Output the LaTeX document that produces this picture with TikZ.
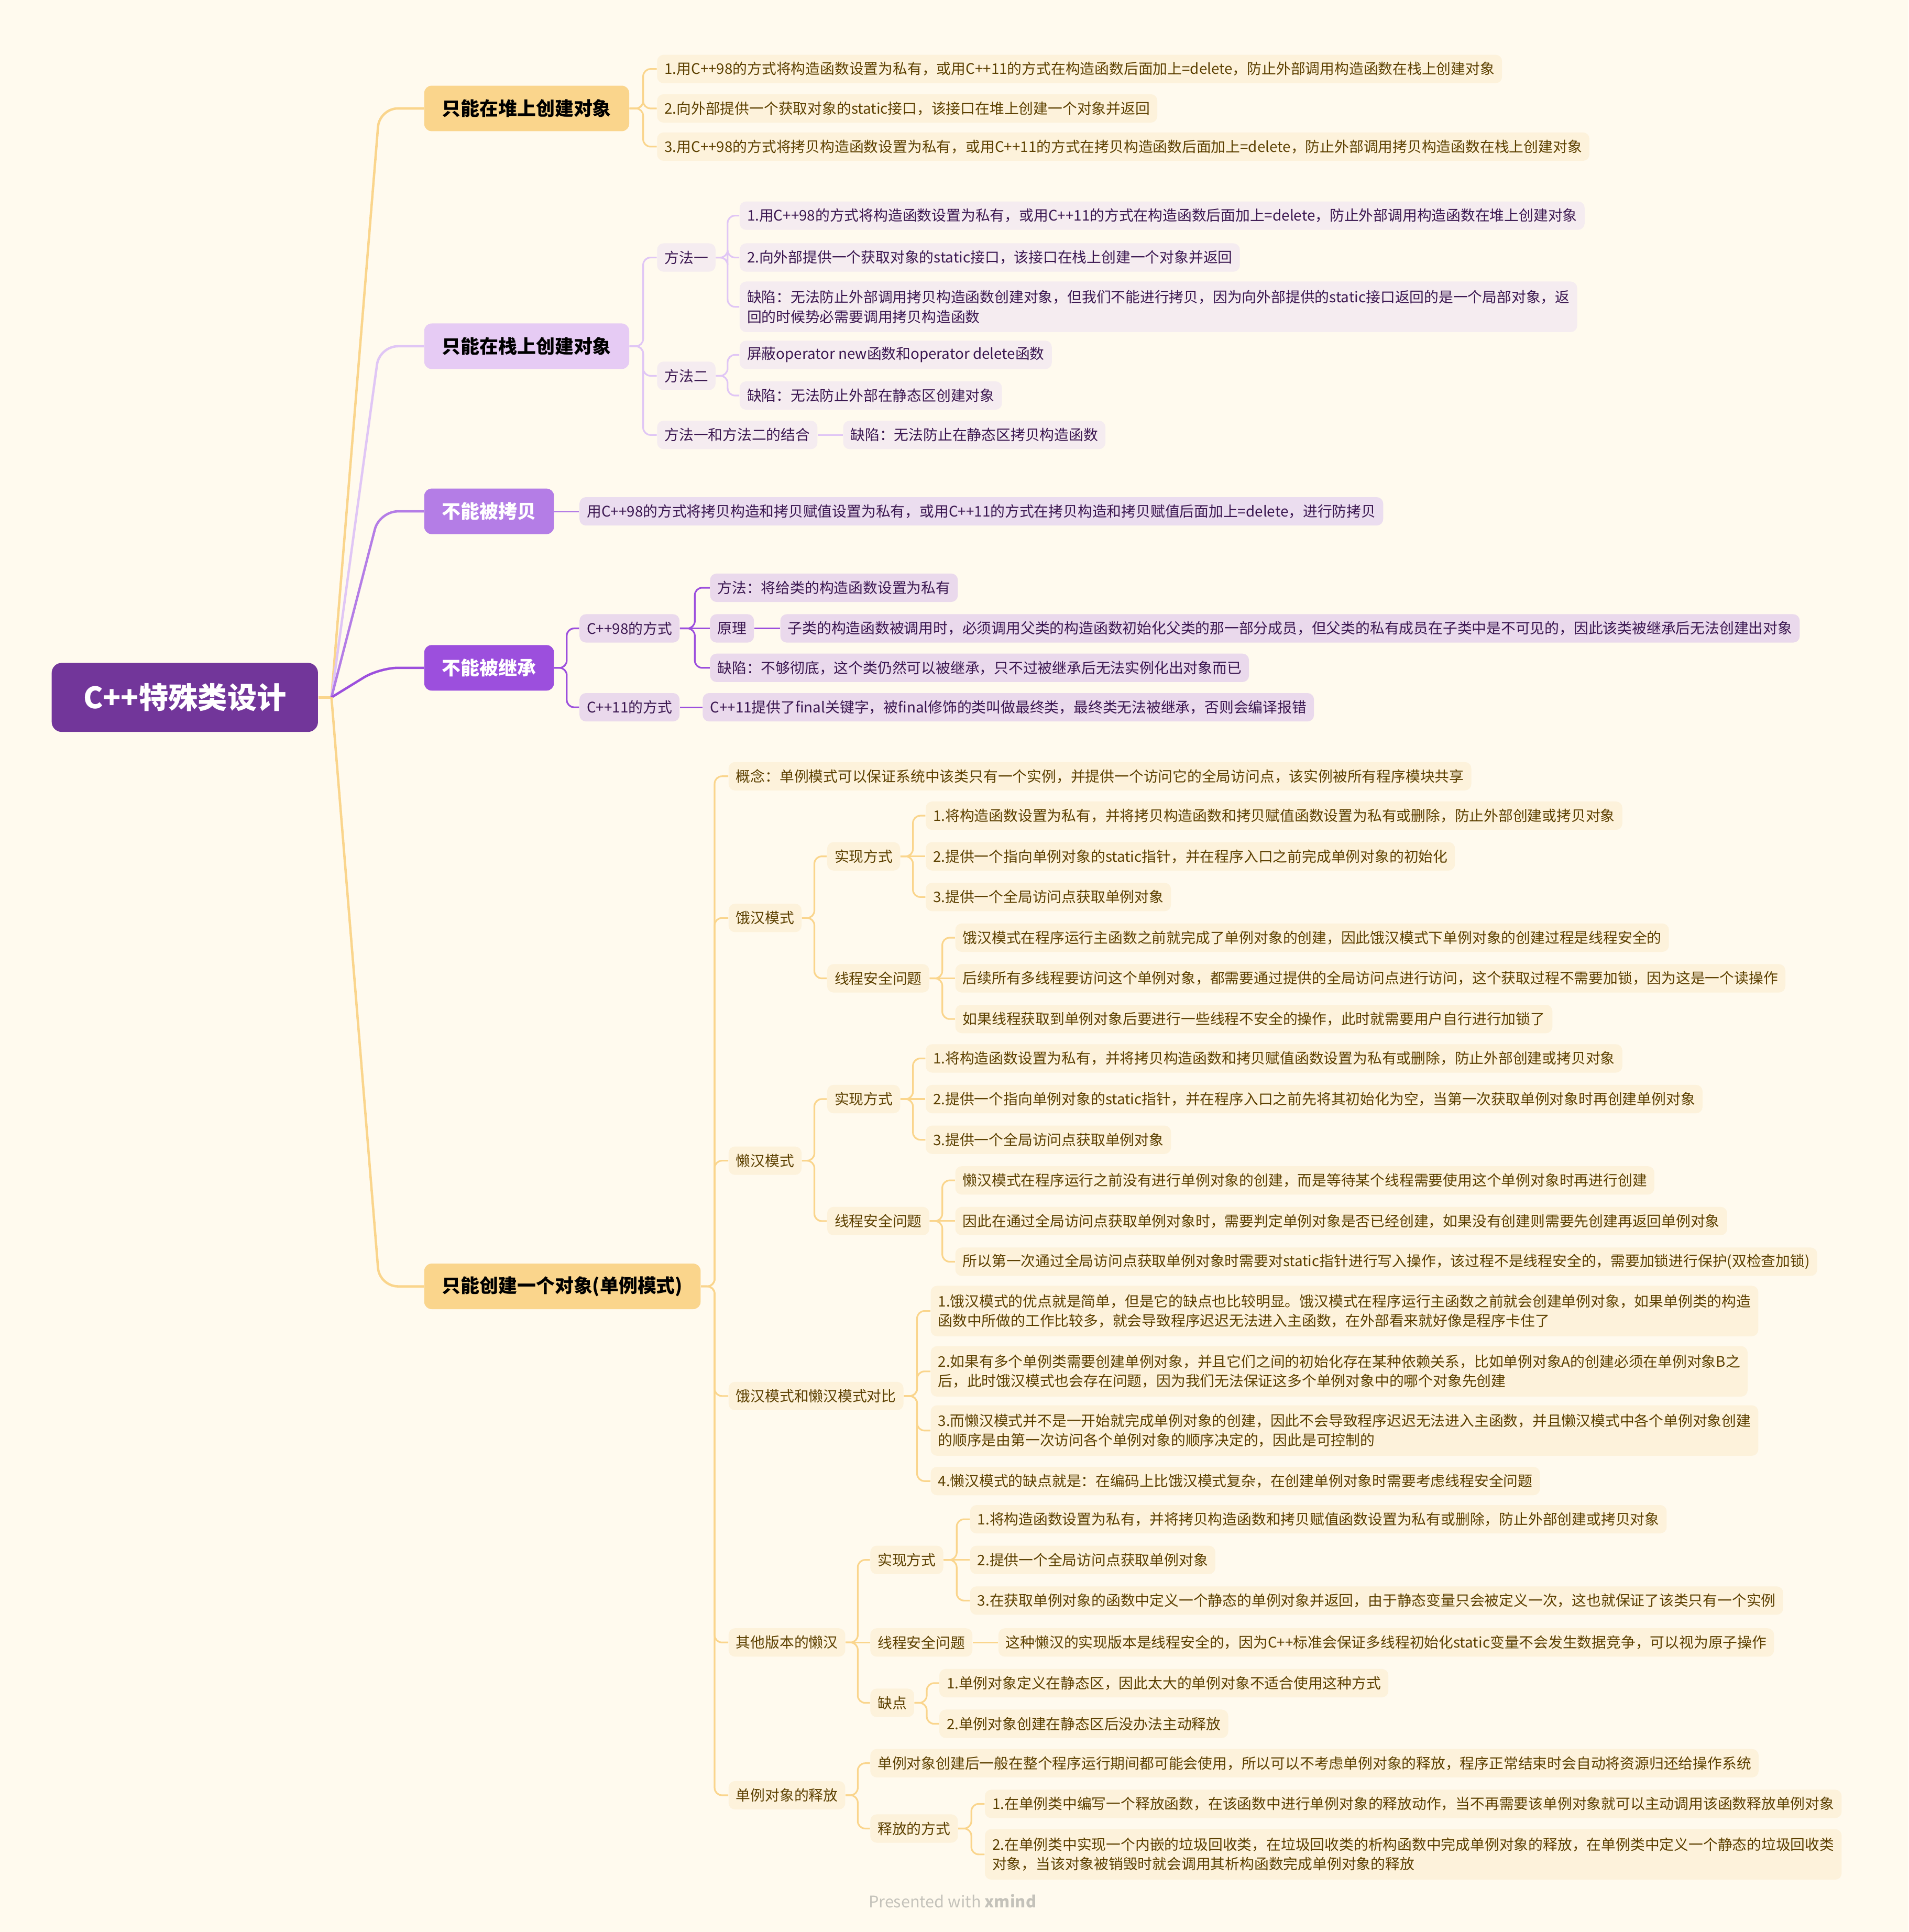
\documentclass[tikz,border=0pt]{standalone}
\usepackage{fontspec}
\setmainfont{Noto Sans CJK SC}
\usepackage{tikz}
\usetikzlibrary{calc}

\definecolor{bgcol}{HTML}{FFFAEE}
\definecolor{rootfill}{HTML}{72369A}
\definecolor{yfill}{HTML}{FAD58C}
\definecolor{yleaffill}{HTML}{FDF2DB}
\definecolor{ytext}{HTML}{5C4000}
\definecolor{lpfill}{HTML}{E6CBF4}
\definecolor{lpline}{HTML}{E0C6F5}
\definecolor{lpleaffill}{HTML}{F5ECF0}
\definecolor{cpfill}{HTML}{B47DE6}
\definecolor{cpleaffill}{HTML}{EBDDEF}
\definecolor{inhfill}{HTML}{9C4FDD}
\definecolor{inhleaffill}{HTML}{EAD9EC}
\definecolor{ptext}{HTML}{3A1650}
\definecolor{footgray}{HTML}{C4C2BA}

\newcommand{\leaffont}{\fontsize{7.9}{10.7}\selectfont}
% parent -> child: stub, trunk, rounded turn into the child
\newcommand{\twig}[3]{\draw[edge, draw=#1] (#2.east) -- ($(#2.east)!.5!(#2.east -| #3.west)$) |- (#3.west);}
% parent -> only child on the same line
\newcommand{\tie}[3]{\draw[edge, draw=#1] (#2.east) -- (#3.west);}

\begin{document}
\begin{tikzpicture}[x=0.0235cm, y=-0.0235cm,
    leaf/.style={anchor=west, rounded corners=3.5pt, inner xsep=4pt, inner ysep=0pt, minimum height=15.4pt, font=\leaffont},
    wide/.style={align=left, minimum height=27.4pt},
    yleaf/.style={leaf, fill=yleaffill, text=ytext},
    sleaf/.style={leaf, fill=lpleaffill, text=ptext},
    cleaf/.style={leaf, fill=cpleaffill, text=ptext},
    ileaf/.style={leaf, fill=inhleaffill, text=ptext},
    topic/.style={anchor=west, rounded corners=4pt, inner xsep=9.7pt, inner ysep=0pt, minimum height=24.7pt, font=\fontsize{10.2}{12}\selectfont\bfseries},
    edge/.style={line width=0.9pt, rounded corners=4pt},
    rootedge/.style={line width=1.3pt, rounded corners=10pt}]

  \fill[bgcol] (0,0) rectangle (1549,1568);
  \useasboundingbox (0,0) rectangle (1549,1568);

  % root
  \node[fill=rootfill, text=white, rounded corners=5.5pt, minimum width=144.5pt, minimum height=37.5pt,
        font=\fontsize{16}{18}\selectfont\bfseries] (root) at (150,566) {C++特殊类设计};
  \coordinate (hub) at (269,566);

  % topics
  \node[topic, fill=yfill] (heap) at (344,88) {只能在堆上创建对象};
  \node[topic, fill=lpfill] (stack) at (344,281) {只能在栈上创建对象};
  \node[topic, fill=cpfill, text=white] (nocopy) at (344,415) {不能被拷贝};
  \node[topic, fill=inhfill, text=white] (noinh) at (344,542) {不能被继承};
  \node[topic, fill=yfill] (single) at (344,1044) {只能创建一个对象(单例模式)};

  % heap
  \node[yleaf] (ha) at (533,56) {1.用C++98的方式将构造函数设置为私有，或用C++11的方式在构造函数后面加上=delete，防止外部调用构造函数在栈上创建对象};
  \node[yleaf] (hb) at (533,88) {2.向外部提供一个获取对象的static接口，该接口在堆上创建一个对象并返回};
  \node[yleaf] (hc) at (533,119) {3.用C++98的方式将拷贝构造函数设置为私有，或用C++11的方式在拷贝构造函数后面加上=delete，防止外部调用拷贝构造函数在栈上创建对象};

  % stack
  \node[sleaf] (sm1) at (533,209) {方法一};
  \node[sleaf] (sm2) at (533,305) {方法二};
  \node[sleaf] (sm12) at (533,353) {方法一和方法二的结合};
  \node[sleaf] (sm1a) at (600,175) {1.用C++98的方式将构造函数设置为私有，或用C++11的方式在构造函数后面加上=delete，防止外部调用构造函数在堆上创建对象};
  \node[sleaf] (sm1b) at (600,209) {2.向外部提供一个获取对象的static接口，该接口在栈上创建一个对象并返回};
  \node[sleaf, wide] (sm1c) at (600,249) {缺陷：无法防止外部调用拷贝构造函数创建对象，但我们不能进行拷贝，因为向外部提供的static接口返回的是一个局部对象，返\\回的时候势必需要调用拷贝构造函数};
  \node[sleaf] (sm2a) at (600,288) {屏蔽operator new函数和operator delete函数};
  \node[sleaf] (sm2b) at (600,321) {缺陷：无法防止外部在静态区创建对象};
  \node[sleaf] (sm12a) at (684,353) {缺陷：无法防止在静态区拷贝构造函数};

  % no copy
  \node[cleaf] (nca) at (470,415) {用C++98的方式将拷贝构造和拷贝赋值设置为私有，或用C++11的方式在拷贝构造和拷贝赋值后面加上=delete，进行防拷贝};

  % no inherit
  \node[ileaf] (ni98) at (470,510) {C++98的方式};
  \node[ileaf] (ni11) at (470,574) {C++11的方式};
  \node[ileaf] (nim) at (576,477) {方法：将给类的构造函数设置为私有};
  \node[ileaf] (nip) at (576,510) {原理};
  \node[ileaf] (nipx) at (633,510) {子类的构造函数被调用时，必须调用父类的构造函数初始化父类的那一部分成员，但父类的私有成员在子类中是不可见的，因此该类被继承后无法创建出对象};
  \node[ileaf] (nid) at (576,542) {缺陷：不够彻底，这个类仍然可以被继承，只不过被继承后无法实例化出对象而已};
  \node[ileaf] (ni11a) at (570,574) {C++11提供了final关键字，被final修饰的类叫做最终类，最终类无法被继承，否则会编译报错};

  % singleton
  \node[yleaf] (sgc) at (591,630) {概念：单例模式可以保证系统中该类只有一个实例，并提供一个访问它的全局访问点，该实例被所有程序模块共享};
  \node[yleaf] (hg) at (591,745) {饿汉模式};
  \node[yleaf] (lz) at (591,942) {懒汉模式};
  \node[yleaf] (cmp) at (591,1133) {饿汉模式和懒汉模式对比};
  \node[yleaf] (ot) at (591,1333) {其他版本的懒汉};
  \node[yleaf] (rel) at (591,1457) {单例对象的释放};

  \node[yleaf] (hgi) at (671,695) {实现方式};
  \node[yleaf] (hgi1) at (751,662) {1.将构造函数设置为私有，并将拷贝构造函数和拷贝赋值函数设置为私有或删除，防止外部创建或拷贝对象};
  \node[yleaf] (hgi2) at (751,695) {2.提供一个指向单例对象的static指针，并在程序入口之前完成单例对象的初始化};
  \node[yleaf] (hgi3) at (751,728) {3.提供一个全局访问点获取单例对象};
  \node[yleaf] (hgs) at (671,794) {线程安全问题};
  \node[yleaf] (hgs1) at (775,761) {饿汉模式在程序运行主函数之前就完成了单例对象的创建，因此饿汉模式下单例对象的创建过程是线程安全的};
  \node[yleaf] (hgs2) at (775,794) {后续所有多线程要访问这个单例对象，都需要通过提供的全局访问点进行访问，这个获取过程不需要加锁，因为这是一个读操作};
  \node[yleaf] (hgs3) at (775,827) {如果线程获取到单例对象后要进行一些线程不安全的操作，此时就需要用户自行进行加锁了};

  \node[yleaf] (lzi) at (671,892) {实现方式};
  \node[yleaf] (lzi1) at (751,859) {1.将构造函数设置为私有，并将拷贝构造函数和拷贝赋值函数设置为私有或删除，防止外部创建或拷贝对象};
  \node[yleaf] (lzi2) at (751,892) {2.提供一个指向单例对象的static指针，并在程序入口之前先将其初始化为空，当第一次获取单例对象时再创建单例对象};
  \node[yleaf] (lzi3) at (751,925) {3.提供一个全局访问点获取单例对象};
  \node[yleaf] (lzs) at (671,991) {线程安全问题};
  \node[yleaf] (lzs1) at (775,958) {懒汉模式在程序运行之前没有进行单例对象的创建，而是等待某个线程需要使用这个单例对象时再进行创建};
  \node[yleaf] (lzs2) at (775,991) {因此在通过全局访问点获取单例对象时，需要判定单例对象是否已经创建，如果没有创建则需要先创建再返回单例对象};
  \node[yleaf] (lzs3) at (775,1024) {所以第一次通过全局访问点获取单例对象时需要对static指针进行写入操作，该过程不是线程安全的，需要加锁进行保护(双检查加锁)};

  \node[yleaf, wide] (cmp1) at (755,1064) {1.饿汉模式的优点就是简单，但是它的缺点也比较明显。饿汉模式在程序运行主函数之前就会创建单例对象，如果单例类的构造\\函数中所做的工作比较多，就会导致程序迟迟无法进入主函数，在外部看来就好像是程序卡住了};
  \node[yleaf, wide] (cmp2) at (755,1113) {2.如果有多个单例类需要创建单例对象，并且它们之间的初始化存在某种依赖关系，比如单例对象A的创建必须在单例对象B之\\后，此时饿汉模式也会存在问题，因为我们无法保证这多个单例对象中的哪个对象先创建};
  \node[yleaf, wide] (cmp3) at (755,1161) {3.而懒汉模式并不是一开始就完成单例对象的创建，因此不会导致程序迟迟无法进入主函数，并且懒汉模式中各个单例对象创建\\的顺序是由第一次访问各个单例对象的顺序决定的，因此是可控制的};
  \node[yleaf] (cmp4) at (755,1202) {4.懒汉模式的缺点就是：在编码上比饿汉模式复杂，在创建单例对象时需要考虑线程安全问题};

  \node[yleaf] (oti) at (706,1266) {实现方式};
  \node[yleaf] (oti1) at (787,1233) {1.将构造函数设置为私有，并将拷贝构造函数和拷贝赋值函数设置为私有或删除，防止外部创建或拷贝对象};
  \node[yleaf] (oti2) at (787,1266) {2.提供一个全局访问点获取单例对象};
  \node[yleaf] (oti3) at (787,1299) {3.在获取单例对象的函数中定义一个静态的单例对象并返回，由于静态变量只会被定义一次，这也就保证了该类只有一个实例};
  \node[yleaf] (ots) at (706,1333) {线程安全问题};
  \node[yleaf] (ots1) at (810,1333) {这种懒汉的实现版本是线程安全的，因为C++标准会保证多线程初始化static变量不会发生数据竞争，可以视为原子操作};
  \node[yleaf] (otd) at (706,1382) {缺点};
  \node[yleaf] (otd1) at (762,1366) {1.单例对象定义在静态区，因此太大的单例对象不适合使用这种方式};
  \node[yleaf] (otd2) at (762,1399) {2.单例对象创建在静态区后没办法主动释放};

  \node[yleaf] (rel1) at (706,1431) {单例对象创建后一般在整个程序运行期间都可能会使用，所以可以不考虑单例对象的释放，程序正常结束时会自动将资源归还给操作系统};
  \node[yleaf] (relw) at (706,1484) {释放的方式};
  \node[yleaf] (relw1) at (799,1464) {1.在单例类中编写一个释放函数，在该函数中进行单例对象的释放动作，当不再需要该单例对象就可以主动调用该函数释放单例对象};
  \node[yleaf, wide] (relw2) at (799,1505) {2.在单例类中实现一个内嵌的垃圾回收类，在垃圾回收类的析构函数中完成单例对象的释放，在单例类中定义一个静态的垃圾回收类\\对象，当该对象被销毁时就会调用其析构函数完成单例对象的释放};

  \node[font=\fontsize{8.7}{10}\selectfont, text=footgray] (foot) at (773,1543) {Presented with \textbf{xmind}};

  % root -> topics
  \draw[rootedge, draw=yfill] (root.east) -- (hub);
  \foreach \t/\c in {heap/yfill, stack/lpline, nocopy/cpfill, noinh/inhfill, single/yfill}
    \draw[rootedge, draw=\c] (hub) -- ($(\t.west)+(-36,0)$) -- (\t.west);

  % branches
  \foreach \c in {ha,hb,hc} {\twig{yfill}{heap}{\c}}
  \foreach \c in {sm1,sm2,sm12} {\twig{lpline}{stack}{\c}}
  \foreach \c in {sm1a,sm1b,sm1c} {\twig{lpline}{sm1}{\c}}
  \foreach \c in {sm2a,sm2b} {\twig{lpline}{sm2}{\c}}
  \tie{lpline}{sm12}{sm12a}
  \tie{cpfill}{nocopy}{nca}
  \foreach \c in {ni98,ni11} {\twig{inhfill}{noinh}{\c}}
  \foreach \c in {nim,nid} {\twig{inhfill}{ni98}{\c}}
  \tie{inhfill}{ni98}{nip}
  \tie{inhfill}{nip}{nipx}
  \tie{inhfill}{ni11}{ni11a}
  \foreach \c in {sgc,hg,lz,cmp,ot,rel} {\twig{yfill}{single}{\c}}
  \foreach \c in {hgi,hgs} {\twig{yfill}{hg}{\c}}
  \foreach \c in {hgi1,hgi3} {\twig{yfill}{hgi}{\c}}
  \tie{yfill}{hgi}{hgi2}
  \foreach \c in {hgs1,hgs3} {\twig{yfill}{hgs}{\c}}
  \tie{yfill}{hgs}{hgs2}
  \foreach \c in {lzi,lzs} {\twig{yfill}{lz}{\c}}
  \foreach \c in {lzi1,lzi3} {\twig{yfill}{lzi}{\c}}
  \tie{yfill}{lzi}{lzi2}
  \foreach \c in {lzs1,lzs3} {\twig{yfill}{lzs}{\c}}
  \tie{yfill}{lzs}{lzs2}
  \foreach \c in {cmp1,cmp2,cmp3,cmp4} {\twig{yfill}{cmp}{\c}}
  \foreach \c in {oti,otd} {\twig{yfill}{ot}{\c}}
  \tie{yfill}{ot}{ots}
  \foreach \c in {oti1,oti3} {\twig{yfill}{oti}{\c}}
  \tie{yfill}{oti}{oti2}
  \tie{yfill}{ots}{ots1}
  \foreach \c in {otd1,otd2} {\twig{yfill}{otd}{\c}}
  \foreach \c in {rel1,relw} {\twig{yfill}{rel}{\c}}
  \foreach \c in {relw1,relw2} {\twig{yfill}{relw}{\c}}
\end{tikzpicture}
\end{document}
